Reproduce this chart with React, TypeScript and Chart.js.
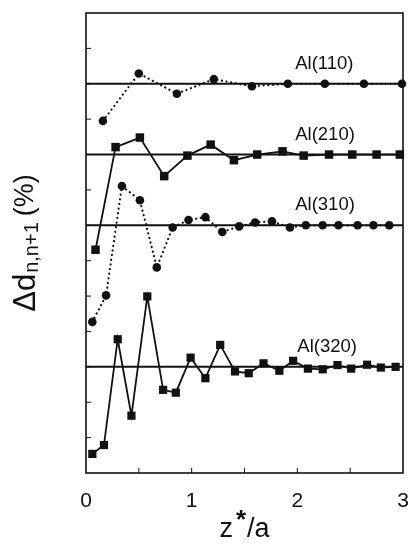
import { useEffect, useRef } from 'react';
import { Chart, registerables } from 'chart.js';

Chart.register(...registerables);

// z*/a positions and layer-spacing change values, read in axis units (offset curves)
const zAl110 = [0.16, 0.5, 0.86, 1.21, 1.57, 1.91, 2.26, 2.63, 2.99];
const dAl110 = [9.95, 11.29, 10.72, 11.13, 10.93, 11.0, 11.0, 11.0, 11.0];

const zAl210 = [0.09, 0.28, 0.51, 0.74, 0.96, 1.18, 1.4, 1.62, 1.86, 2.06, 2.3, 2.52, 2.75, 2.97];
const dAl210 = [6.31, 9.21, 9.48, 8.39, 8.97, 9.28, 8.84, 9.0, 9.09, 8.97, 9.0, 9.0, 9.0, 9.0];

const zAl310 = [0.06, 0.19, 0.34, 0.51, 0.67, 0.82, 0.97, 1.13, 1.29, 1.45, 1.6, 1.76, 1.93, 2.08, 2.24, 2.39, 2.57, 2.72, 2.87];
const dAl310 = [4.27, 5.02, 8.11, 7.71, 5.81, 6.94, 7.15, 7.23, 6.81, 6.97, 7.08, 7.11, 6.94, 7.0, 7.0, 7.0, 7.0, 7.0, 7.0];

const zAl320 = [0.06, 0.17, 0.3, 0.43, 0.58, 0.73, 0.85, 0.99, 1.13, 1.27, 1.41, 1.54, 1.68, 1.83, 1.96, 2.1, 2.24, 2.38, 2.51, 2.66, 2.79, 2.93];
const dAl320 = [0.54, 0.79, 3.78, 1.62, 4.99, 2.35, 2.27, 3.26, 2.68, 3.62, 2.87, 2.82, 3.1, 2.89, 3.17, 2.95, 2.93, 3.05, 2.95, 3.06, 2.98, 3.0];

const seriesNames = ['Al(110)', 'Al(210)', 'Al(310)', 'Al(320)'];
const referenceLevels = [11, 9, 7, 3];
const labelZ = [1.98, 1.98, 1.98, 2.0];
const xTickLabels = ['0', '1', '2', '3'];

const INK = '#111';
const SANS = "'Liberation Sans', Arial, Helvetica, sans-serif";

export default function App() {
  const ref = useRef<HTMLCanvasElement>(null);

  useEffect(() => {
    if (!ref.current) return;
    const pts = (xs: number[], ys: number[]) => xs.map((x, i) => ({ x, y: ys[i] }));

    const refSets = referenceLevels.map((v) => ({
      data: [{ x: 0, y: v }, { x: 3, y: v }],
      borderColor: INK,
      borderWidth: 2,
      pointRadius: 0,
      showLine: true,
      clip: false as any,
    }));

    const dotted = { borderDash: [0.1, 4.6], borderWidth: 2.2, borderCapStyle: 'round' as const };
    const solid = { borderWidth: 1.8 };

    const series = [
      { data: pts(zAl110, dAl110), pointStyle: 'circle', pointRadius: 4.3, ...dotted },
      { data: pts(zAl210, dAl210), pointStyle: 'rect', pointRadius: 6, ...solid },
      { data: pts(zAl310, dAl310), pointStyle: 'circle', pointRadius: 4.3, ...dotted },
      { data: pts(zAl320, dAl320), pointStyle: 'rect', pointRadius: 5.8, ...solid },
    ].map((d) => ({
      ...d,
      showLine: true,
      borderColor: INK,
      backgroundColor: INK,
      pointBackgroundColor: INK,
      pointBorderColor: INK,
      pointBorderWidth: 0,
      tension: 0,
      clip: false as any,
    }));

    const framePlugin = {
      id: 'frame',
      beforeDatasetsDraw(chart: any) {
        const { ctx, chartArea: a, scales } = chart;
        const x = scales.x;
        const y = scales.y;
        ctx.save();
        ctx.strokeStyle = INK;
        ctx.lineWidth = 1;
        x.ticks.forEach((t: any) => {
          const px = x.getPixelForValue(t.value);
          if (px <= a.left + 1 || px >= a.right - 1) return;
          ctx.beginPath();
          ctx.moveTo(px, a.bottom);
          ctx.lineTo(px, a.bottom - 5);
          ctx.stroke();
        });
        y.ticks.forEach((t: any) => {
          const py = y.getPixelForValue(t.value);
          if (py <= a.top + 1 || py >= a.bottom - 1) return;
          ctx.beginPath();
          ctx.moveTo(a.left, py);
          ctx.lineTo(a.left + 5, py);
          ctx.stroke();
        });
        ctx.lineWidth = 1.6;
        ctx.strokeRect(a.left, a.top, a.right - a.left, a.bottom - a.top);
        ctx.restore();
      },
      afterDraw(chart: any) {
        const { ctx, chartArea: a, scales } = chart;
        const x = scales.x;
        const y = scales.y;
        ctx.save();
        ctx.fillStyle = INK;
        ctx.textBaseline = 'alphabetic';
        ctx.textAlign = 'left';
        // curve labels
        ctx.font = `18.5px ${SANS}`;
        seriesNames.forEach((name, i) => {
          const px = x.getPixelForValue(labelZ[i]);
          const py = y.getPixelForValue(referenceLevels[i]) - 15;
          ctx.fillText(name, px, py);
        });

        // x title: z* /a
        const cx = (a.left + a.right) / 2;
        const baseY = 537;
        ctx.font = `27px ${SANS}`;
        const wz = ctx.measureText('z').width;
        const wa = ctx.measureText('/a').width;
        const gap = 14;
        const total = wz + gap + wa;
        const sx = cx - total / 2;
        ctx.fillText('z', sx, baseY);
        ctx.font = `bold 26px ${SANS}`;
        ctx.textAlign = 'center';
        ctx.fillText('*', sx + wz + gap / 2 + 1, baseY - 9);
        ctx.textAlign = 'left';
        ctx.font = `27px ${SANS}`;
        ctx.fillText('/a', sx + wz + gap, baseY);

        // y title: Δd_{n,n+1} (%)
        const cy = (a.top + a.bottom) / 2;
        ctx.font = `31px ${SANS}`;
        const w1 = ctx.measureText('\u0394d').width;
        ctx.font = `20px ${SANS}`;
        const w2 = ctx.measureText('n,n+1').width;
        ctx.font = `27px ${SANS}`;
        const w3 = ctx.measureText('(%)').width;
        const sp = 7;
        const len = w1 + w2 + sp + w3;
        ctx.translate(35, cy + len / 2);
        ctx.rotate(-Math.PI / 2);
        ctx.font = `31px ${SANS}`;
        ctx.fillText('\u0394d', 0, 0);
        ctx.font = `20px ${SANS}`;
        ctx.fillText('n,n+1', w1 + 1, 3);
        ctx.font = `27px ${SANS}`;
        ctx.fillText('(%)', w1 + w2 + sp, -2);
        ctx.restore();
      },
    };

    const chart = new Chart(ref.current, {
      type: 'scatter',
      data: { datasets: [...refSets, ...series] as any },
      options: {
        animation: false,
        responsive: false,
        layout: { padding: { top: 13, right: 9, left: 0, bottom: 0 } },
        plugins: { legend: { display: false }, tooltip: { enabled: false } },
        scales: {
          x: {
            type: 'linear',
            min: 0,
            max: 3,
            grid: { display: false, drawTicks: false },
            border: { display: false },
            ticks: {
              stepSize: 0.5,
              autoSkip: false,
              maxRotation: 0,
              padding: 16,
              color: INK,
              font: { family: SANS, size: 21 },
              callback: (v: any) => (Number.isInteger(v) ? xTickLabels[v] : ''),
            },
            afterFit: (s: any) => {
              s.height = 71;
              s.paddingLeft = 0;
              s.paddingRight = 0;
            },
          },
          y: {
            type: 'linear',
            min: 0,
            max: 13,
            grid: { display: false, drawTicks: false },
            border: { display: false },
            ticks: { stepSize: 1, display: false },
            afterFit: (s: any) => {
              s.width = 86;
              s.paddingTop = 0;
              s.paddingBottom = 0;
            },
          },
        },
      },
      plugins: [framePlugin],
    });
    return () => chart.destroy();
  }, []);

  return (
    <div style={{ position: 'absolute', left: 0, top: 0, width: 412, height: 544, background: '#fff' }}>
      <canvas ref={ref} width={412} height={544} style={{ display: 'block' }} />
    </div>
  );
}
